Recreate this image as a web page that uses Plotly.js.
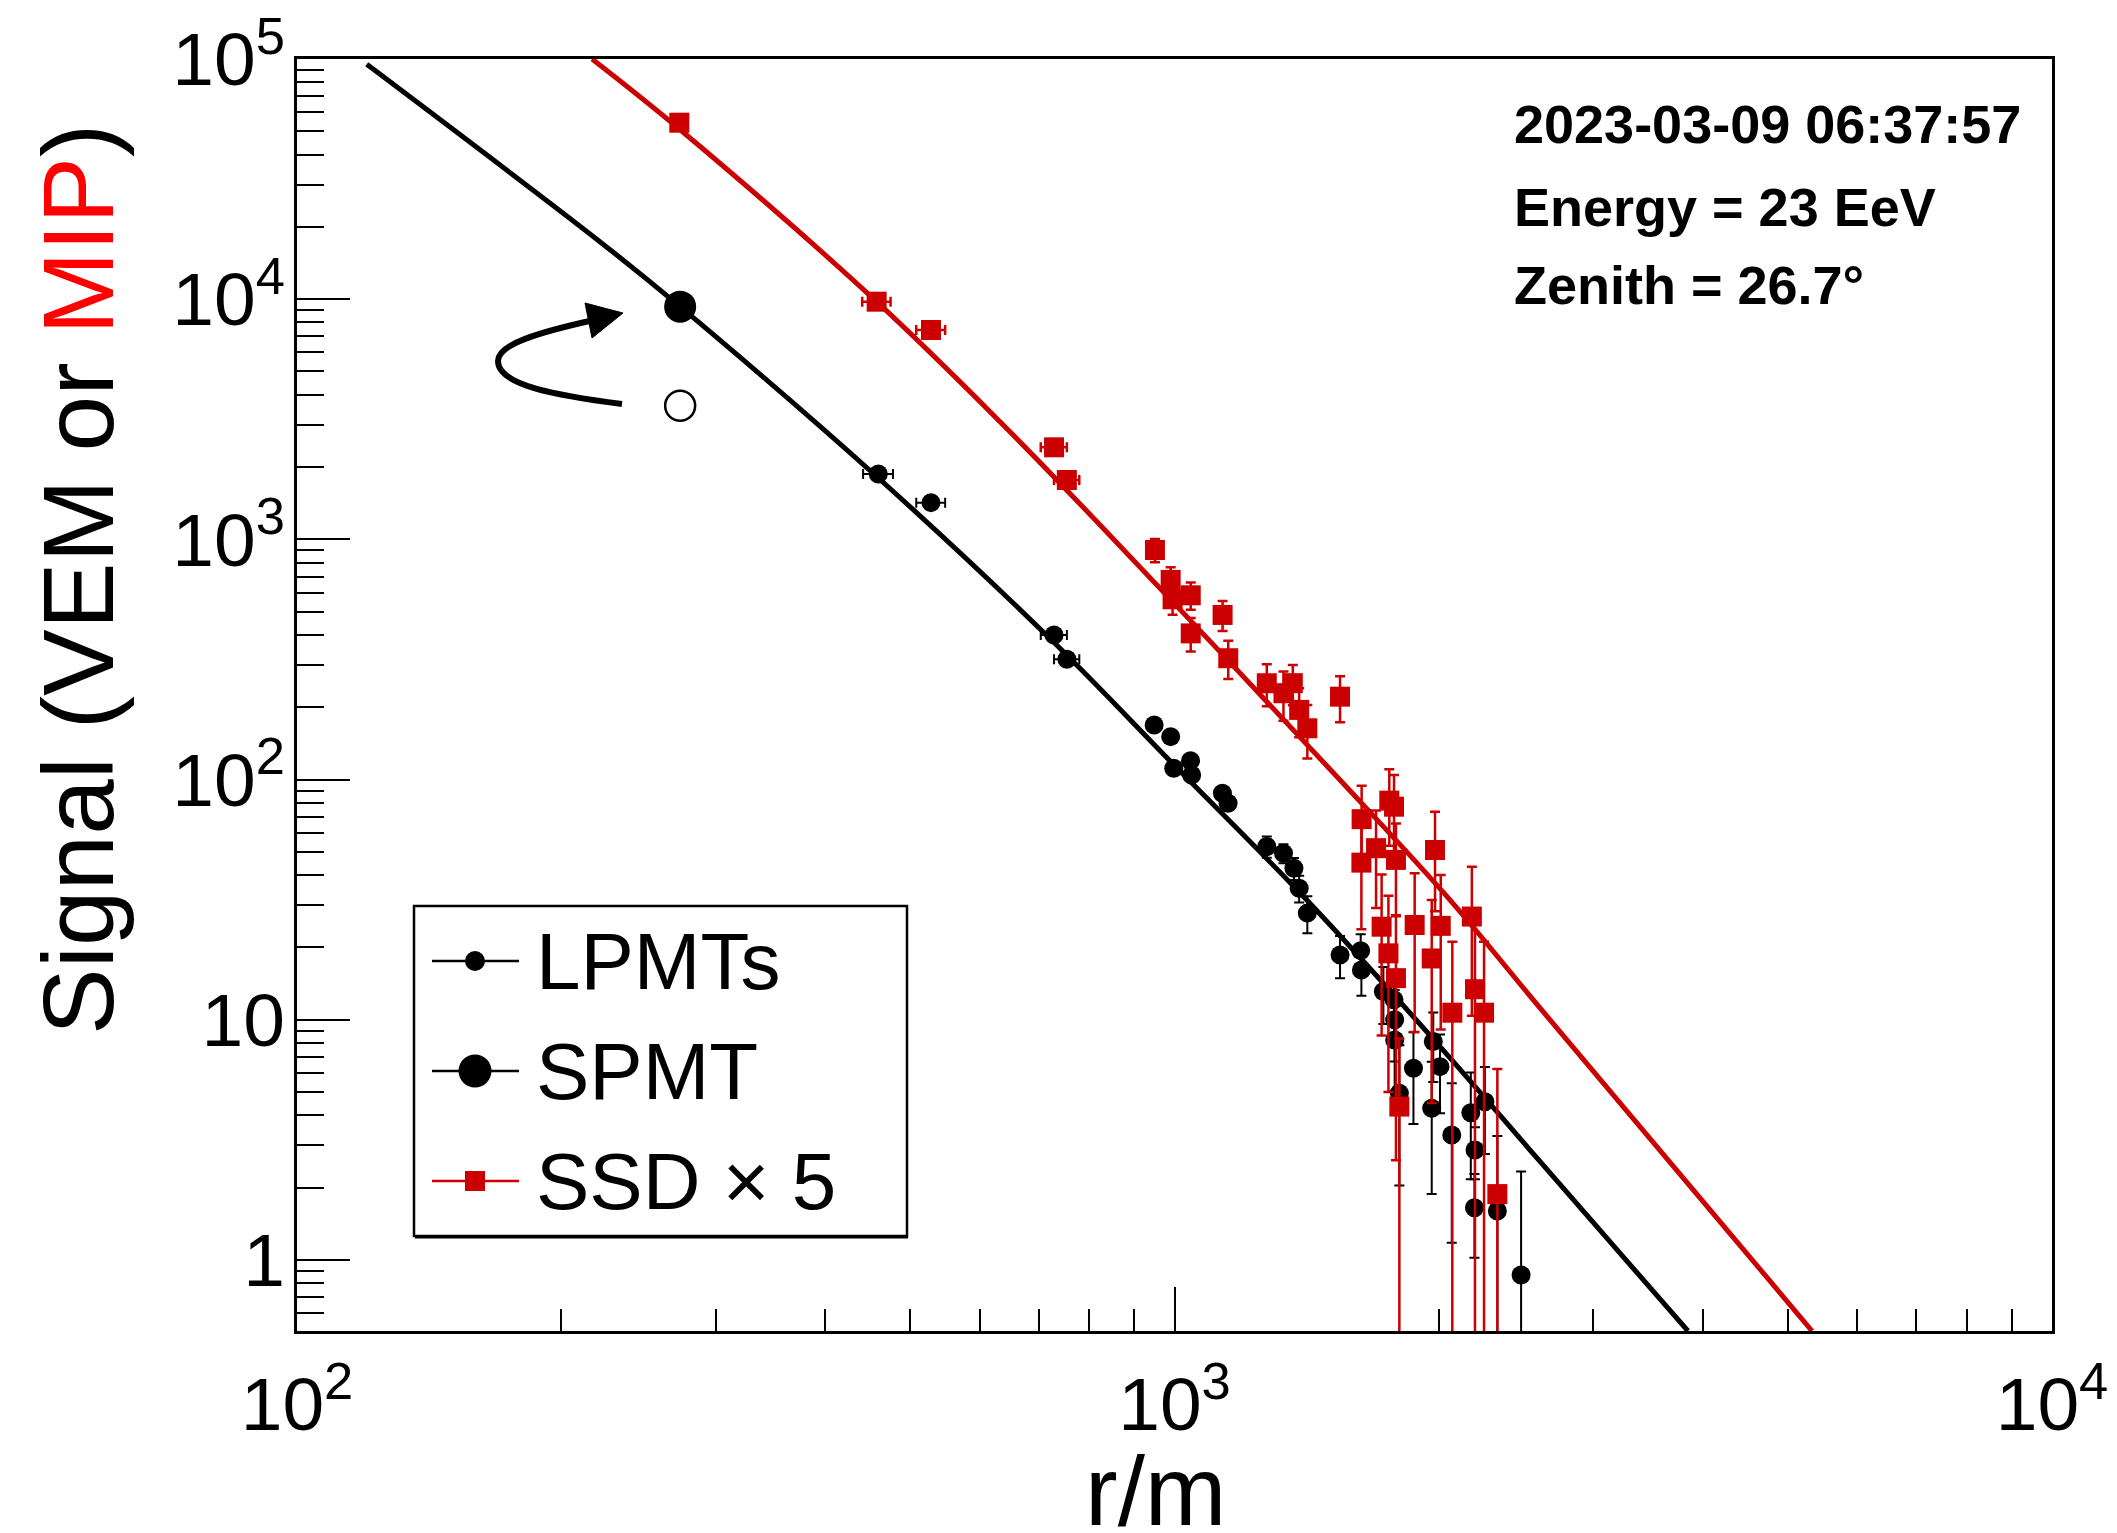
<!DOCTYPE html>
<html>
<head>
<meta charset="utf-8">
<script src="https://cdn.plot.ly/plotly-3.0.1.min.js"></script>
<style>html,body{margin:0;padding:0;background:#fff;}#chart{width:2117px;height:1533px;}</style>
</head>
<body>
<div id="chart"></div>
<script>
// ---------- data ----------
// LPMT signals (VEM) vs distance r (m)
const lpmtR    = [459.7, 527.8, 729, 754, 948, 990, 998, 1043, 1046, 1134, 1151, 1274, 1331, 1368, 1387, 1417,
                  1544, 1630, 1633, 1730, 1779, 1782, 1782, 1804, 1872, 1972, 2007, 1964, 2070, 2176, 2258, 2200,
                  2197, 2333, 2483];
const lpmtS    = [1872, 1422, 400, 316.7, 168.8, 150.9, 111.4, 119.9, 104.5, 87.7, 79.7, 52.6, 49.3, 42.7, 35.3, 27.8,
                  18.6, 19.4, 16.1, 13.1, 12.1, 10.0, 8.24, 4.94, 6.28, 8.11, 6.38, 4.28, 3.31, 4.10, 4.56, 2.87,
                  1.65, 1.60, 0.866];
const lpmtSErr = [40, 35, 15, 12, 8, 7, 6, 6, 6, 5, 5, 5.3, 4.5, 4.5, 4.5, 4.9,
                  3.7, 3.3, 3.5, 3.5, 3.5, 3.3, 3.2, 2.9, 2.6, 2.6, 2.3, 2.4, 2.13, 1.93, 1.8, 0.7,
                  0.63, 1.68, 1.47];
const lpmtRErr = [18, 20, 25, 25, 0, 0, 0, 0, 0, 0, 0, 0, 0, 0, 0, 0,
                  0, 0, 0, 0, 0, 0, 0, 0, 0, 0, 0, 0, 0, 0, 0, 0,
                  0, 0, 0];
// saturated LPMT value at the station closest to the core
const lpmtSatR = [273.3];
const lpmtSatS = [3602];
// SPMT (replaces the saturated LPMT)
const spmtR = [273.3];
const spmtS = [9307];
// SSD signals (MIP x 5)
const ssdR    = [272.7, 457.7, 527.8, 729, 753.9, 950, 990, 995, 1043.5, 1043.5, 1134.5, 1151.5, 1274, 1331, 1364, 1387,
                 1417, 1544, 1634, 1633, 1757, 1779, 1697, 1788, 1981, 1722, 1878, 2011, 2182, 1753, 1788, 1964,
                 2073, 2200, 2253, 1804, 2333];
const ssdS    = [54300, 9763, 7443, 2417, 1767, 903, 678, 563, 585, 406, 484.6, 320, 251.8, 228.8, 252, 195,
                 163.5, 221.4, 68.4, 45.1, 81.7, 77.1, 51.8, 46.3, 50.9, 24.4, 24.8, 24.6, 26.9, 18.9, 14.9, 18.0,
                 10.7, 13.4, 10.7, 4.35, 1.88];
const ssdSErr = [500, 200, 180, 80, 70, 100, 87, 78, 76, 65, 69, 58, 50, 53, 48, 45,
                 41, 48, 25.9, 21.3, 28.7, 27.4, 22.6, 19.3, 22.6, 15.8, 15.9, 15.5, 16.5, 13.9, 12.3, 13.5,
                 10.4, 13.2, 10.4, 4.0, 4.36];
const ssdRErr = [0, 17, 20, 25, 25, 0, 0, 0, 0, 0, 0, 0, 0, 0, 0, 0,
                 0, 0, 0, 0, 0, 0, 0, 0, 0, 0, 0, 0, 0, 0, 0, 0,
                 0, 0, 0, 0, 0];
// fitted lateral distribution functions
const fitLpmtR = [120.1, 221.4, 273.3, 459.7, 729, 997, 1415, 2007, 2609, 3847];
const fitLpmtS = [95050, 17357, 9307, 1801, 372, 115.7, 31.5, 7.73, 2.57, 0.506];
const fitSsdR  = [216.9, 272.7, 457.7, 632.6, 822.6, 1544, 2061, 2609, 5328];
const fitSsdS  = [100000, 51120, 9763, 3090, 1148, 99.6, 31.5, 11.2, 0.506];

// ticks and labels
const xTickVals = [100, 1000, 10000];
const xTickText = ['10<sup>2</sup>', '10<sup>3</sup>', '10<sup>4</sup>'];
const yTickVals = [1, 10, 100, 1000, 10000, 100000];
const yTickText = ['1', '10', '10<sup>2</sup>', '10<sup>3</sup>', '10<sup>4</sup>', '10<sup>5</sup>'];
const legendNames = ['LPMTs', 'SPMT', 'SSD \u00d7 5'];
const infoLines = ['2023-03-09 06:37:57', 'Energy = 23 EeV', 'Zenith = 26.7\u00b0'];
const yTitle = 'Signal (VEM or <span style="color:#ff0000">MIP</span>)';
const xTitle = 'r/m';

// ---------- style ----------
const FONT = 'Liberation Sans, Arial, Helvetica, sans-serif';
const BLACK = '#000000';
const RED = '#cc0000';
const W = 2117, H = 1533;
const M = {l: 297, r: 65, t: 59, b: 202};
const PW = W - M.l - M.r, PH = H - M.t - M.b;
const PX = X => (X - M.l) / PW;          // page pixel -> paper x
const PY = Y => (H - M.b - Y) / PH;      // page pixel -> paper y

function minorTicks(lo, hi) {
  const out = [];
  for (let e = lo; e <= hi; e++) for (let d = 2; d <= 9; d++) out.push(d * Math.pow(10, e));
  return out;
}

const traces = [
  {x: fitLpmtR, y: fitLpmtS, mode: 'lines', line: {color: BLACK, width: 5, shape: 'spline', smoothing: 1}, hoverinfo: 'skip', showlegend: false},
  {x: fitSsdR, y: fitSsdS, mode: 'lines', line: {color: RED, width: 5, shape: 'spline', smoothing: 1}, hoverinfo: 'skip', showlegend: false},
  {x: lpmtR, y: lpmtS, mode: 'markers', name: legendNames[0], showlegend: false,
   marker: {symbol: 'circle', size: 19, color: BLACK},
   error_y: {type: 'data', array: lpmtSErr, color: BLACK, thickness: 2, width: 5},
   error_x: {type: 'data', array: lpmtRErr, color: BLACK, thickness: 2, width: 5}},
  {x: lpmtSatR, y: lpmtSatS, mode: 'markers', showlegend: false,
   marker: {symbol: 'circle-open', size: 30, color: BLACK, line: {width: 2.5, color: BLACK}}},
  {x: spmtR, y: spmtS, mode: 'markers', name: legendNames[1], showlegend: false,
   marker: {symbol: 'circle', size: 32, color: BLACK}},
  {x: ssdR, y: ssdS, mode: 'markers', name: legendNames[2], showlegend: false,
   marker: {symbol: 'square', size: 20, color: RED},
   error_y: {type: 'data', array: ssdSErr, color: RED, thickness: 2.5, width: 5},
   error_x: {type: 'data', array: ssdRErr, color: RED, thickness: 2.5, width: 5}}
];

// ---------- decorations: legend box, curved arrow ----------
const shapes = [];
const annotations = [];

// legend frame
shapes.push({type: 'rect', xref: 'paper', yref: 'paper', x0: PX(414), x1: PX(907), y0: PY(1236), y1: PY(906),
             line: {color: BLACK, width: 2.5}, fillcolor: '#ffffff', layer: 'above'});
shapes.push({type: 'line', xref: 'paper', yref: 'paper', x0: PX(415), x1: PX(908), y0: PY(1237), y1: PY(1237),
             line: {color: BLACK, width: 3}, layer: 'above'});
const rowsY = [961, 1071, 1181];
const legColors = [BLACK, BLACK, RED];
rowsY.forEach((Y, i) => {
  shapes.push({type: 'line', xref: 'paper', yref: 'paper', x0: PX(432), x1: PX(519), y0: PY(Y), y1: PY(Y),
               line: {color: legColors[i], width: 2.5}, layer: 'above'});
  const half = i === 1 ? 16.5 : 10;
  shapes.push({type: i === 2 ? 'rect' : 'circle', xref: 'paper', yref: 'paper',
               xsizemode: 'pixel', ysizemode: 'pixel', xanchor: PX(475), yanchor: PY(Y),
               x0: -half, x1: half, y0: -half, y1: half,
               fillcolor: legColors[i], line: {width: 0}, layer: 'above'});
  annotations.push({xref: 'paper', yref: 'paper', x: PX(534), y: PY(Y), xanchor: 'left', yanchor: 'middle',
                    text: legendNames[i], showarrow: false, font: {family: FONT, size: 80, color: BLACK}});
});

// curved arrow from the saturated LPMT to the SPMT value
const arrowPath = 'M' + PX(622) + ',' + PY(404) +
  ' C' + PX(560) + ',' + PY(396) + ' ' + PX(498) + ',' + PY(386) + ' ' + PX(498) + ',' + PY(361) +
  ' C' + PX(498) + ',' + PY(344) + ' ' + PX(540) + ',' + PY(332) + ' ' + PX(594) + ',' + PY(320);
shapes.push({type: 'path', xref: 'paper', yref: 'paper', path: arrowPath, line: {color: BLACK, width: 6}, layer: 'above'});
const headPath = 'M' + PX(623) + ',' + PY(313) + ' L' + PX(585) + ',' + PY(303) + ' L' + PX(592) + ',' + PY(338) + ' Z';
shapes.push({type: 'path', xref: 'paper', yref: 'paper', path: headPath, fillcolor: BLACK, line: {color: BLACK, width: 1}, layer: 'above'});

// event information
const infoY = [124, 207, 285];
infoLines.forEach((t, i) => {
  annotations.push({xref: 'paper', yref: 'paper', x: PX(1512), y: PY(infoY[i]), xanchor: 'left', yanchor: 'middle',
                    text: '<b>' + t + '</b>', showarrow: false, font: {family: FONT, size: 54, color: BLACK}});
});

// axis titles
annotations.push({xref: 'paper', yref: 'paper', x: PX(78), y: PY(580), xanchor: 'center', yanchor: 'middle',
                  text: yTitle, textangle: -90, showarrow: false, font: {family: FONT, size: 100, color: BLACK}});
annotations.push({xref: 'paper', yref: 'paper', x: PX(1156), y: PY(1491), xanchor: 'center', yanchor: 'middle',
                  text: xTitle, showarrow: false, font: {family: FONT, size: 98, color: BLACK}});

const axisCommon = {
  type: 'log', tickmode: 'array', ticks: 'inside', tickcolor: BLACK, tickwidth: 2,
  showline: true, linecolor: BLACK, linewidth: 3, mirror: true,
  showgrid: false, zeroline: false,
  tickfont: {family: FONT, size: 75, color: BLACK}
};

const layout = {
  width: W, height: H,
  margin: {l: M.l, r: M.r, t: M.t, b: M.b, pad: 0},
  paper_bgcolor: '#ffffff', plot_bgcolor: '#ffffff',
  showlegend: false,
  font: {family: FONT, color: BLACK},
  xaxis: Object.assign({}, axisCommon, {
    range: [2, 4], tickvals: xTickVals, ticktext: xTickText, ticklen: 44, ticklabelstandoff: 6,
    minor: {tickmode: 'array', tickvals: minorTicks(2, 3), ticks: 'inside', ticklen: 22, tickwidth: 2, tickcolor: BLACK, showgrid: false}
  }),
  yaxis: Object.assign({}, axisCommon, {
    range: [Math.log10(0.506), 5], tickvals: yTickVals, ticktext: yTickText, ticklen: 53, ticklabelstandoff: -6,
    minor: {tickmode: 'array', tickvals: minorTicks(-1, 4).filter(v => v > 0.5), ticks: 'inside', ticklen: 27, tickwidth: 2, tickcolor: BLACK, showgrid: false}
  }),
  shapes: shapes,
  annotations: annotations
};

Plotly.newPlot('chart', traces, layout, {displayModeBar: false, staticPlot: true});
</script>
</body>
</html>
